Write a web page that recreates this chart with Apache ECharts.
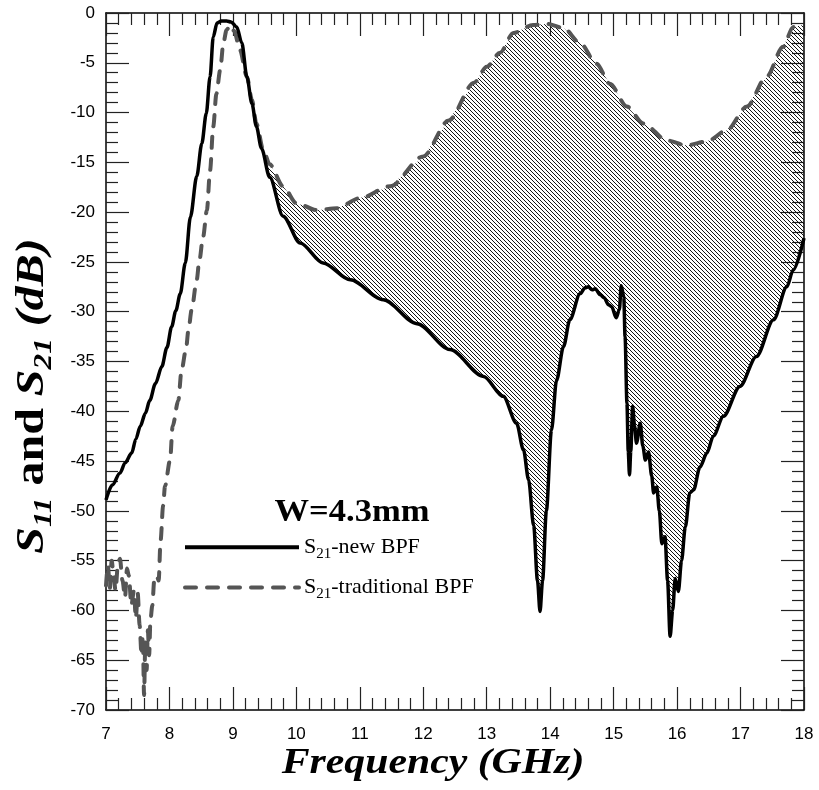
<!DOCTYPE html>
<html><head><meta charset="utf-8">
<script src="https://cdn.jsdelivr.net/npm/echarts@6/dist/echarts.min.js"></script>
<style>html,body{margin:0;padding:0;background:#fff}#c{width:819px;height:790px}</style>
</head><body><div id="c"></div>
<script>
// ---- data ----
const xTickLabels = [7, 8, 9, 10, 11, 12, 13, 14, 15, 16, 17, 18];
const yTickLabels = [0, -5, -10, -15, -20, -25, -30, -35, -40, -45, -50, -55, -60, -65, -70];

const newName = 'S21-new BPF';
const newF = [7.00, 7.10, 7.22, 7.30, 7.405, 7.47, 7.54, 7.62, 7.69, 7.78, 7.88, 7.96, 8.035, 8.10, 8.17, 8.25, 8.33, 8.43, 8.51, 8.58, 8.64, 8.69, 8.75, 8.82, 8.90, 8.97, 9.06, 9.14, 9.22, 9.30, 9.37, 9.45, 9.58, 9.79, 10.06, 10.42, 10.85, 11.37, 11.90, 12.42, 12.95, 13.26, 13.47, 13.58, 13.66, 13.74, 13.80, 13.84, 13.88, 13.94, 14.02, 14.10, 14.21, 14.31, 14.47, 14.55, 14.60, 14.66, 14.71, 14.79, 14.85, 14.92, 14.97, 15.04, 15.09, 15.12, 15.16, 15.18, 15.21, 15.23, 15.25, 15.27, 15.30, 15.33, 15.36, 15.42, 15.46, 15.50, 15.55, 15.60, 15.63, 15.68, 15.72, 15.76, 15.81, 15.85, 15.89, 15.93, 15.97, 16.02, 16.07, 16.13, 16.20, 16.26, 16.36, 16.47, 16.57, 16.73, 16.99, 17.25, 17.52, 17.73, 17.83, 18.00];
const newDb = [-48.9, -47.4, -46.2, -45.2, -44.2, -42.8, -41.5, -40.2, -38.9, -37.2, -35.5, -33.6, -31.5, -29.9, -28.2, -25.1, -20.5, -16.4, -13.1, -10.1, -6.4, -2.4, -1.0, -0.8, -0.8, -0.9, -1.4, -3.0, -6.4, -9.1, -11.4, -13.6, -16.5, -20.4, -23.1, -25.1, -26.8, -28.8, -31.2, -33.8, -36.5, -38.5, -41.2, -43.9, -46.9, -51.5, -57.0, -60.1, -57.0, -50.0, -41.9, -36.9, -33.5, -30.8, -28.2, -27.6, -27.5, -27.8, -27.7, -28.3, -28.6, -29.3, -29.5, -30.6, -29.8, -27.4, -28.5, -32.5, -39.2, -44.0, -46.4, -44.0, -39.5, -41.5, -43.2, -41.2, -43.5, -44.9, -44.1, -46.5, -48.2, -47.6, -50.0, -53.3, -52.6, -57.0, -62.6, -60.0, -56.8, -58.1, -55.0, -51.6, -48.2, -47.9, -45.6, -44.2, -42.5, -40.5, -37.5, -34.5, -30.8, -27.5, -25.8, -22.6];

const tradName = 'S21-traditional BPF';
const tradF = [7.00, 7.03, 7.06, 7.09, 7.12, 7.15, 7.19, 7.22, 7.26, 7.30, 7.33, 7.36, 7.40, 7.44, 7.47, 7.50, 7.53, 7.56, 7.58, 7.60, 7.62, 7.64, 7.66, 7.68, 7.70, 7.73, 7.76, 7.80, 7.83, 7.86, 7.90, 7.93, 8.01, 8.05, 8.14, 8.19, 8.26, 8.30, 8.35, 8.43, 8.47, 8.53, 8.59, 8.64, 8.69, 8.74, 8.80, 8.85, 8.90, 8.96, 9.02, 9.11, 9.22, 9.30, 9.37, 9.48, 9.58, 9.79, 10.00, 10.32, 10.64, 11.00, 11.48, 12.00, 12.40, 12.80, 13.00, 13.21, 13.42, 13.73, 13.95, 14.21, 14.47, 14.73, 14.94, 15.21, 15.47, 15.84, 16.15, 16.47, 16.78, 17.10, 17.41, 17.67, 17.83, 17.99];
const tradDb = [-57.5, -55.5, -57.8, -55.0, -56.5, -58.0, -55.2, -54.8, -57.0, -58.7, -55.8, -56.5, -59.5, -58.0, -60.8, -58.3, -61.5, -64.5, -62.5, -68.5, -63.0, -66.0, -62.0, -64.5, -61.0, -59.5, -57.0, -56.5, -57.0, -53.0, -49.5, -47.5, -44.9, -41.5, -38.9, -35.9, -33.8, -31.8, -29.8, -26.8, -24.9, -22.5, -19.8, -15.8, -11.4, -8.1, -5.7, -3.0, -1.7, -1.2, -1.8, -3.7, -6.4, -8.7, -11.1, -13.8, -15.2, -17.4, -19.1, -19.8, -19.6, -18.6, -17.4, -14.4, -10.8, -7.0, -5.4, -4.0, -2.0, -1.2, -1.1, -1.5, -3.0, -5.1, -7.1, -9.4, -11.1, -12.8, -13.3, -12.9, -11.8, -9.4, -6.4, -3.4, -1.4, -1.2];

const hatchStartF = 9.37;

// ---- hatch pattern ----
function makeHatch() {
  const s = 8, c = document.createElement('canvas');
  c.width = s; c.height = s;
  const g = c.getContext('2d');
  const img = g.createImageData(s, s);
  for (let y = 0; y < s; y++) for (let x = 0; x < s; x++) {
    const k = (((x - y) % 4) + 4) % 4;
    const i = (y * s + x) * 4;
    img.data[i] = 0; img.data[i + 1] = 0; img.data[i + 2] = 0; img.data[i + 3] = k === 0 ? 235 : 0;
  }
  g.putImageData(img, 0, 0);
  return c;
}
const hatchCanvas = makeHatch();

const zip = (a, b) => a.map((v, i) => [v, b[i]]);
const serif = '"Liberation Serif", "Times New Roman", serif';
const sans = '"Liberation Sans", Arial, sans-serif';

const axisCommon = {
  type: 'value',
  axisLine: { show: true, onZero: false, lineStyle: { color: '#000', width: 1.5 } },
  axisTick: { show: true, inside: true, length: 23, lineStyle: { color: '#222', width: 1.2 } },
  minorTick: { show: true, splitNumber: 5, length: 12, lineStyle: { color: '#222', width: 1.2 } },
  splitLine: { show: false },
  minorSplitLine: { show: false }
};

const chart = echarts.init(document.getElementById('c'), null, { renderer: 'canvas' });
chart.setOption({
  backgroundColor: '#fff',
  animation: false,
  grid: { left: 106, right: 15, top: 13, bottom: 80, containLabel: false },
  xAxis: [
    Object.assign({}, axisCommon, {
      min: xTickLabels[0], max: xTickLabels[xTickLabels.length - 1], interval: 1, position: 'bottom',
      axisLabel: { color: '#000', fontFamily: sans, fontSize: 17, margin: 16 }
    }),
    Object.assign({}, axisCommon, {
      min: xTickLabels[0], max: xTickLabels[xTickLabels.length - 1], interval: 1, position: 'top',
      axisLabel: { show: false }
    })
  ],
  yAxis: [
    Object.assign({}, axisCommon, {
      min: yTickLabels[yTickLabels.length - 1], max: yTickLabels[0], interval: 5, position: 'left',
      axisLabel: { color: '#000', fontFamily: sans, fontSize: 17, margin: 11 }
    }),
    Object.assign({}, axisCommon, {
      min: yTickLabels[yTickLabels.length - 1], max: yTickLabels[0], interval: 5, position: 'right',
      axisLabel: { show: false }
    })
  ],
  legend: {
    left: 178, top: 531, orient: 'vertical', itemWidth: 114, itemHeight: 28, itemGap: 15,
    itemStyle: { opacity: 0 },
    data: [
      { name: newName, lineStyle: { color: '#000', width: 4, type: 'solid' } },
      { name: tradName, lineStyle: { color: '#555', width: 4, type: [11, 11], cap: 'round' } }
    ],
    formatter: n => n === newName ? '{m|S}{s|21}{m|-new BPF}' : '{m|S}{s|21}{m|-traditional BPF}',
    textStyle: {
      color: '#000',
      rich: {
        m: { fontFamily: serif, fontSize: 22, color: '#000', lineHeight: 28 },
        s: { fontFamily: serif, fontSize: 15, color: '#000', lineHeight: 14, verticalAlign: 'bottom' }
      }
    }
  },
  graphic: [
    {
      type: 'text', x: 33, y: 396, rotation: Math.PI / 2, scaleX: 1.2, silent: true,
      style: {
        text: '{i|S}{s|11}{b| and }{i|S}{s|21}{i| (dB)}',
        align: 'center', verticalAlign: 'middle',
        rich: {
          i: { fontFamily: serif, fontSize: 40, fontWeight: 'bold', fontStyle: 'italic', fill: '#000', lineHeight: 48 },
          b: { fontFamily: serif, fontSize: 40, fontWeight: 'bold', fill: '#000', lineHeight: 48 },
          s: { fontFamily: serif, fontSize: 26, fontWeight: 'bold', fontStyle: 'italic', fill: '#000', lineHeight: 24, verticalAlign: 'bottom' }
        }
      }
    },
    {
      type: 'text', x: 433, y: 764, scaleX: 1.16, silent: true,
      style: { text: 'Frequency (GHz)', font: 'italic bold 36px ' + serif, fill: '#000', align: 'center', verticalAlign: 'middle' }
    },
    {
      type: 'text', x: 352, y: 513, scaleX: 1.08, silent: true,
      style: { text: 'W=4.3mm', font: 'bold 32px ' + serif, fill: '#000', align: 'center', verticalAlign: 'middle' }
    }
  ],
  series: [
    {
      type: 'custom', name: 'band', coordinateSystem: 'cartesian2d', silent: true, z: 1, clip: true,
      data: [[hatchStartF, 0]],
      renderItem: (params, api) => {
        const pts = [];
        for (let i = 0; i < tradF.length; i++) if (tradF[i] >= hatchStartF) pts.push(api.coord([tradF[i], tradDb[i]]));
        for (let i = newF.length - 1; i >= 0; i--) if (newF[i] >= hatchStartF) pts.push(api.coord([newF[i], newDb[i]]));
        return { type: 'polygon', shape: { points: pts }, style: { fill: { image: hatchCanvas, repeat: 'repeat' }, stroke: null } };
      }
    },
    {
      type: 'line', name: tradName, data: zip(tradF, tradDb), symbol: 'none', z: 3,
      smooth: 0.3, smoothMonotone: 'x',
      lineStyle: { color: '#555', width: 4, type: [11, 11], cap: 'round' },
      itemStyle: { color: '#555' }
    },
    {
      type: 'line', name: newName, data: zip(newF, newDb), symbol: 'none', z: 4,
      smooth: 0.3, smoothMonotone: 'x',
      lineStyle: { color: '#000', width: 3.5 },
      itemStyle: { color: '#000' }
    }
  ]
});
</script>
</body></html>
